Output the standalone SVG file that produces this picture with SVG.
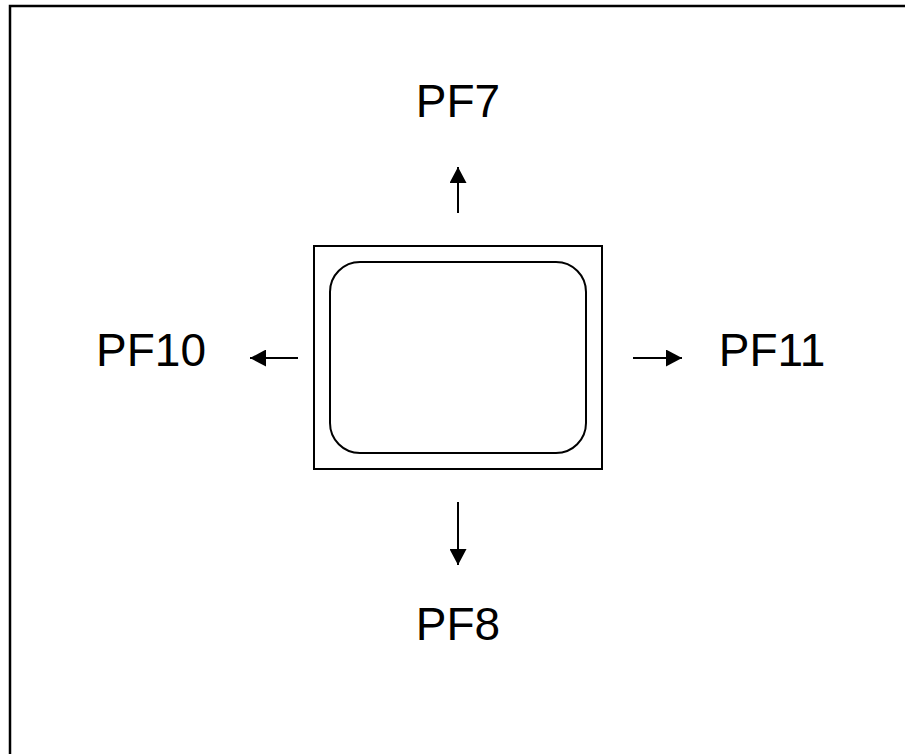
<svg xmlns="http://www.w3.org/2000/svg" width="905" height="754" viewBox="0 0 905 754">
<defs>
<style>
.lbl{font-family:"Liberation Sans",Arial,sans-serif;font-size:46px;fill:#000;text-anchor:middle}
.con{stroke:#000;stroke-width:2;fill:none}
</style>
<marker id="ah" markerWidth="17" markerHeight="17" refX="16" refY="8.5" orient="auto" markerUnits="userSpaceOnUse">
<path d="M0,0 L16,8.5 L0,17 Z" fill="#000"/>
</marker>
</defs>
<rect width="905" height="754" fill="#fff"/>
<path id="frame" d="M10,760 V6 H910" fill="none" stroke="#000" stroke-width="2.5"/>
<g id="screen">
<rect x="314" y="246" width="288" height="223" fill="none" stroke="#000" stroke-width="2"/>
<rect x="330" y="262" width="256" height="191" rx="30" ry="30" fill="none" stroke="#000" stroke-width="2"/>
</g>
<g id="connectors">
<line class="con" x1="458" y1="213" x2="458" y2="167" marker-end="url(#ah)"/>
<line class="con" x1="458" y1="502" x2="458" y2="565" marker-end="url(#ah)"/>
<line class="con" x1="298" y1="358" x2="250" y2="358" marker-end="url(#ah)"/>
<line class="con" x1="633" y1="358" x2="682" y2="358" marker-end="url(#ah)"/>
</g>
<g id="pf7"><text class="lbl" x="458" y="117">PF7</text></g>
<g id="pf8"><text class="lbl" x="458" y="640">PF8</text></g>
<g id="pf10"><text class="lbl" x="151" y="366">PF10</text></g>
<g id="pf11"><text class="lbl" x="772" y="366">PF11</text></g>
</svg>
